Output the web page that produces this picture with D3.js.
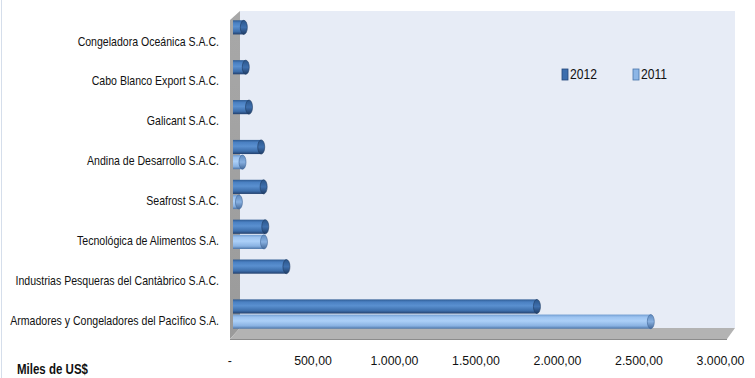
<!DOCTYPE html>
<html><head><meta charset="utf-8">
<script src="https://cdn.jsdelivr.net/npm/d3@7"></script>
<style>
html,body{margin:0;padding:0;background:#fff;}
svg{display:block;font-family:"Liberation Sans",Arial,sans-serif;}
</style></head>
<body>
<svg id="chart" width="755" height="378"></svg>
<script>
const categories = [
  "Congeladora Oceánica S.A.C.",
  "Cabo Blanco Export S.A.C.",
  "Galicant S.A.C.",
  "Andina de Desarrollo S.A.C.",
  "Seafrost S.A.C.",
  "Tecnológica de Alimentos S.A.",
  "Industrias Pesqueras del Cantàbrico S.A.C.",
  "Armadores y Congeladores del Pacìfico S.A."
];
const seriesNames = ["2012", "2011"];
const values2012 = [88, 100, 120, 195, 210, 220, 350, 1890];
const values2011 = [0, 0, 0, 80, 58, 212, 0, 2590];
const tickValues = [0, 500, 1000, 1500, 2000, 2500, 3000];
const axisTitle = "Miles de US$";

const svg = d3.select("#chart");
const defs = svg.append("defs");

function grad(id, stops) {
  const g = defs.append("linearGradient").attr("id", id)
    .attr("x1", 0).attr("y1", 0).attr("x2", 0).attr("y2", 1);
  stops.forEach(s => g.append("stop").attr("offset", s[0]).attr("stop-color", s[1]));
}
grad("g2012", [[0, "#2d5a92"], [0.18, "#4a80c2"], [0.45, "#5a90d0"], [0.8, "#3d6eab"], [1, "#223f6c"]]);
grad("g2011", [[0, "#6f9bd0"], [0.18, "#9cc3f0"], [0.45, "#acd0f8"], [0.8, "#89b2e2"], [1, "#4c75a8"]]);
grad("cap2012", [[0, "#2a558a"], [0.5, "#3f70ae"], [1, "#1f3c66"]]);
grad("cap2011", [[0, "#5f8bc0"], [0.5, "#88b0e0"], [1, "#44699a"]]);
grad("wallL", [[0, "#a8a8a8"], [1, "#9a9a9a"]]);

// chart border (faint)
svg.append("line").attr("x1", 1.5).attr("x2", 1.5).attr("y1", 0).attr("y2", 378)
  .attr("stroke", "#d5deeb").attr("stroke-width", 1);

// geometry of 3D box
const wallLeft = 240, wallRight = 735, wallTop = 11, floorBack = 328, floorFront = 339, frontLeft = 230, frontRight = 727;

svg.append("rect").attr("x", wallLeft).attr("y", wallTop)
  .attr("width", wallRight - wallLeft).attr("height", floorBack - wallTop)
  .attr("fill", "#e7ecf6");
svg.append("path")
  .attr("d", `M${frontLeft},${wallTop + 9}L${wallLeft},${wallTop}L${wallLeft},${floorBack}L${frontLeft},${floorFront}Z`)
  .attr("fill", "url(#wallL)");
svg.append("path")
  .attr("d", `M${frontLeft},${floorFront}L${wallLeft},${floorBack}L${wallRight},${floorBack}L${frontRight},${floorFront}Z`)
  .attr("fill", "#b3b3b3");
svg.append("line").attr("x1", frontLeft).attr("x2", frontRight)
  .attr("y1", floorFront + 0.5).attr("y2", floorFront + 0.5)
  .attr("stroke", "#8c8c8c").attr("stroke-width", 1.2);

// scales
const x = d3.scaleLinear().domain([0, 3000]).range([233, 721]);
const xTick = d3.scaleLinear().domain([0, 3000]).range([231, 720]);
const y = d3.scaleBand().domain(categories).range([15, 334]).paddingInner(0.24).paddingOuter(0.12);
const ySub = d3.scaleBand().domain(seriesNames).range([0, y.bandwidth()]);

const data = [];
categories.forEach((c, i) => {
  data.push({cat: c, s: "2012", v: values2012[i]});
  data.push({cat: c, s: "2011", v: values2011[i]});
});

const bars = svg.append("g").selectAll("g").data(data.filter(d => d.v > 0)).join("g");
const capRx = 3.5;
bars.append("rect")
  .attr("x", x(0))
  .attr("y", d => y(d.cat) + ySub(d.s) + 0.5)
  .attr("width", d => Math.max(0, x(d.v) - x(0) - capRx))
  .attr("height", ySub.bandwidth() - 1)
  .attr("fill", d => `url(#g${d.s})`);
bars.append("ellipse")
  .attr("cx", d => x(d.v) - capRx)
  .attr("cy", d => y(d.cat) + ySub(d.s) + ySub.bandwidth() / 2)
  .attr("rx", capRx)
  .attr("ry", ySub.bandwidth() / 2 - 0.5)
  .attr("fill", d => `url(#cap${d.s})`)
  .attr("stroke", d => d.s === "2012" ? "#1e3a62" : "#3f6698")
  .attr("stroke-width", 0.6);

// category labels
const labels = svg.append("g").selectAll("text").data(categories).join("text")
  .attr("x", 0).attr("y", 0)
  .attr("text-anchor", "end")
  .attr("dominant-baseline", "middle")
  .attr("font-size", 13.5)
  .attr("fill", "#111")
  .text(d => d);
const labelScale = 209 / labels.nodes()[categories.length - 1].getComputedTextLength();
labels.attr("transform", d => `translate(219,${y(d) + y.bandwidth() / 2 + 7}) scale(${labelScale},1)`);

// x axis
const loc = d3.formatLocale({decimal: ",", thousands: ".", grouping: [3], currency: ["", ""]});
const fmt = loc.format(",.2f");
const axis = d3.axisBottom(xTick).tickValues(tickValues).tickSize(0).tickPadding(0)
  .tickFormat(d => d === 0 ? "-" : fmt(d));
const gx = svg.append("g").attr("transform", "translate(0,355)").call(axis);
gx.select(".domain").remove();
gx.selectAll("text")
  .attr("font-family", '"Liberation Sans",Arial,sans-serif')
  .attr("font-size", 13.5).attr("fill", "#111");
const tickNode = gx.selectAll(".tick text").filter(d => d === 3000).node();
const tickScale = 48 / tickNode.getComputedTextLength();
gx.selectAll(".tick text").attr("transform", `scale(${tickScale},1)`);
gx.selectAll(".tick").filter(d => d === 0).select("text").attr("dx", -2);

// axis title
const title = svg.append("text").attr("x", 0).attr("y", 0)
  .attr("font-size", 15).attr("font-weight", "bold").attr("fill", "#111")
  .text(axisTitle);
const titleScale = 71 / title.node().getComputedTextLength();
title.attr("transform", `translate(17,374) scale(${titleScale},1)`);

// legend
const legendX = [562, 633];
const legend = svg.append("g").selectAll("g").data(seriesNames).join("g")
  .attr("transform", (d, i) => `translate(${legendX[i]},69)`);
legend.append("rect").attr("width", 6).attr("height", 11)
  .attr("fill", d => d === "2012" ? "#3c6eae" : "#8db6e6")
  .attr("stroke", d => d === "2012" ? "#24477a" : "#4a75aa").attr("stroke-width", 0.8);
const legText = legend.append("text").attr("x", 0).attr("y", 0).attr("dominant-baseline", "middle")
  .attr("font-size", 14).attr("fill", "#111").text(d => d);
const legScale = 27 / legText.node().getComputedTextLength();
legText.attr("transform", `translate(8,6) scale(${legScale},1)`);
</script>
</body></html>
